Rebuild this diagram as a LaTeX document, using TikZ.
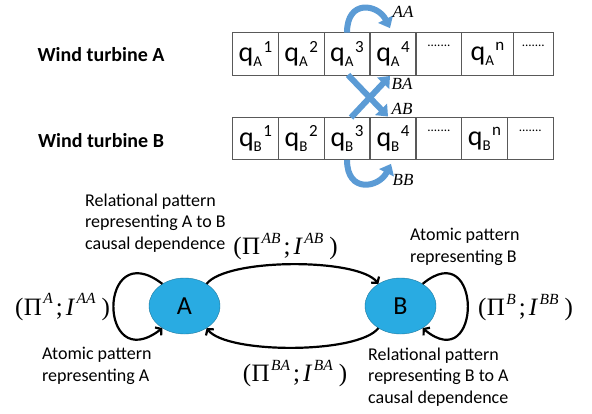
\documentclass[tikz,border=0pt]{standalone}
\usepackage{fontspec}
\setmainfont{Carlito}
\newfontfamily\tms{Liberation Serif}
\usetikzlibrary{shapes.geometric,arrows.meta}
\definecolor{arrowblue}{RGB}{91,155,213}
\definecolor{nodeblue}{RGB}{41,171,226}
\newcommand{\qsym}[2]{{\fontsize{28}{28}\selectfont q}\raisebox{-5pt}{\fontsize{15}{15}\selectfont #1}\kern1.5pt\raisebox{9.5pt}{\fontsize{17}{17}\selectfont #2}}
\newcommand{\celldots}{\raisebox{7pt}[0pt][0pt]{\fontsize{13}{13}\selectfont .......}}
\newcommand{\pattsym}[2]{{\tms\fontsize{25}{25}\selectfont(\kern0.5ptΠ\kern1.5pt\raisebox{11.5pt}{\fontsize{15.5}{15.5}\selectfont\itshape #1}\kern3pt;\kern3pt\textit{I}\kern1.5pt\raisebox{11.5pt}{\fontsize{15.5}{15.5}\selectfont\itshape #2}\kern6pt)}}
\begin{document}
\begin{tikzpicture}[x=1pt, y=-1pt,
    cellbox/.style={draw=black!65, line width=0.8pt, minimum width=45.7pt, minimum height=42.3pt, inner sep=0pt, outer sep=0pt},
    flow/.style={draw=arrowblue, line width=6pt, -{Triangle[length=10pt,width=16pt]}},
    flowlabel/.style={font=\tms\itshape\fontsize{17}{17}\selectfont, inner sep=0pt},
    blob/.style={ellipse, fill=nodeblue, draw=nodeblue!70!black, line width=0.4pt, minimum width=71pt, minimum height=56pt, inner sep=0pt, font=\fontsize{26}{26}\selectfont},
    link/.style={line width=2.2pt, -{Straight Barb[length=4pt,width=10pt]}},
    note/.style={align=left, inner sep=0pt, font=\fontsize{18}{21.5}\selectfont},
    turbine/.style={inner sep=0pt, font=\bfseries\fontsize{20}{24}\selectfont},
    patt/.style={inner sep=0pt, anchor=base}]
    \useasboundingbox (0,0) rectangle (592,413);

    % First row (turbine A)
    \node[turbine] (turbA) at (101,55) {Wind turbine A};
    \node[cellbox] (a1) at (255.5,53.8) {\qsym{A}{1}};
    \node[cellbox] (a2) at (301.2,53.8) {\qsym{A}{2}};
    \node[cellbox] (a3) at (347,53.8) {\qsym{A}{3}};
    \node[cellbox] (a4) at (393,53.8) {\qsym{A}{4}};
    \node[cellbox] (a5) at (438.9,53.8) {\celldots};
    \node[cellbox, minimum width=51.6pt] (a6) at (487.5,53.8) {\qsym{A}{n}};
    \node[cellbox, minimum width=40pt] (a7) at (533.3,53.8) {\celldots};

    % Second row (turbine B)
    \node[turbine] (turbB) at (101,141) {Wind turbine B};
    \node[cellbox] (b1) at (255.5,138.7) {\qsym{B}{1}};
    \node[cellbox] (b2) at (301.2,138.7) {\qsym{B}{2}};
    \node[cellbox] (b3) at (347,138.7) {\qsym{B}{3}};
    \node[cellbox] (b4) at (393,138.7) {\qsym{B}{4}};
    \node[cellbox] (b5) at (438.9,138.7) {\celldots};
    \node[cellbox] (b6) at (484.5,138.7) {\qsym{B}{n}};
    \node[cellbox] (b7) at (530.3,138.7) {\celldots};

    % Blue arrows between the rows
    \draw[flow] (a3.north) .. controls +(0,-34) and +(-12,-24) .. ([xshift=-3pt,yshift=4.5pt]a4.north);
    \draw[flow] ([xshift=4pt]b3.north) -- ([xshift=-3pt,yshift=-1pt]a4.south);
    \draw[flow] ([xshift=1pt]a3.south) -- ([xshift=-5pt,yshift=1pt]b4.north);
    \draw[flow] (b3.south) .. controls +(0,34) and +(-12,24) .. ([xshift=-2pt,yshift=-4pt]b4.south);
    \node[flowlabel] (lAA) at (403,12) {AA};
    \node[flowlabel] (lBA) at (402,84) {BA};
    \node[flowlabel] (lAB) at (402,109) {AB};
    \node[flowlabel] (lBB) at (403,180) {BB};

    % Pattern graph
    \node[blob] (A) at (184.5,306) {A};
    \node[blob] (B) at (400.5,306) {B};

    \draw[link] (A.45) .. controls +(20,-26) and +(-20,-26) .. (B.135);
    \draw[link] (B.225) .. controls +(-20,26) and +(20,26) .. (A.-45);
    \draw[link] (A.135) .. controls +(-65,-50) and +(-65,50) .. (A.225);
    \draw[link] (B.45) .. controls +(60,-50) and +(60,50) .. (B.-45);

    \node[patt] (pattA) at (62.5,315) {\pattsym{A}{AA}};
    \node[patt] (pattB) at (525.5,315.5) {\pattsym{B}{BB}};
    \node[patt] (pattAB) at (285.5,254.7) {\pattsym{AB}{AB}};
    \node[patt] (pattBA) at (295,381.7) {\pattsym{BA}{BA}};

    \node[note, anchor=west] (relAB) at (85,223) {Relational pattern\\representing A to B\\causal dependence};
    \node[note, anchor=west] (atomA) at (42,366) {Atomic pattern\\representing A};
    \node[note, anchor=west] (atomB) at (410,247) {Atomic pattern\\representing B};
    \node[note, anchor=west] (relBA) at (368,377) {Relational pattern\\representing B to A\\causal dependence};
\end{tikzpicture}
\end{document}
